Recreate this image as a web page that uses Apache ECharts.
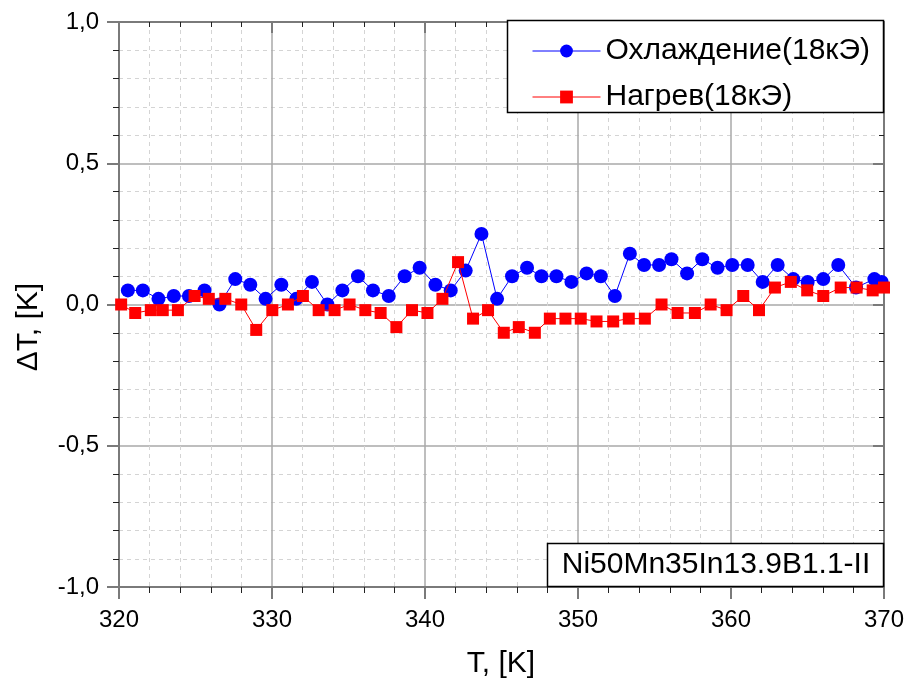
<!DOCTYPE html>
<html>
<head>
<meta charset="utf-8">
<title>ΔT(T)</title>
<script src="https://cdn.jsdelivr.net/npm/echarts@6/dist/echarts.min.js"></script>
<style>
  html, body { margin: 0; padding: 0; background: #fff; }
  #chart { width: 908px; height: 684px; }
</style>
</head>
<body>
<div id="chart"></div>
<script>
// Cooling run, 18 kOe: temperature [K] and temperature change [K]
const coolingT = [320.58, 321.56, 322.58, 323.58, 324.57, 325.59, 326.57, 327.60, 328.58, 329.58,
  330.61, 331.59, 332.61, 333.62, 334.60, 335.62, 336.60, 337.63, 338.67, 339.65,
  340.68, 341.68, 342.66, 343.69, 344.71, 345.69, 346.67, 347.61, 348.59, 349.57,
  350.56, 351.49, 352.41, 353.39, 354.32, 355.30, 356.11, 357.13, 358.12, 359.12,
  360.08, 361.09, 362.07, 363.05, 364.07, 365.01, 366.03, 367.01, 368.17, 369.37, 369.85];
const coolingDT = [0.05, 0.05, 0.02, 0.03, 0.03, 0.05, 0.00, 0.09, 0.07, 0.02,
  0.07, 0.02, 0.08, 0.00, 0.05, 0.10, 0.05, 0.03, 0.10, 0.13,
  0.07, 0.05, 0.12, 0.25, 0.02, 0.10, 0.13, 0.10, 0.10, 0.08,
  0.11, 0.10, 0.03, 0.18, 0.14, 0.14, 0.16, 0.11, 0.16, 0.13,
  0.14, 0.14, 0.08, 0.14, 0.09, 0.08, 0.09, 0.14, 0.06, 0.09, 0.08];

// Heating run, 18 kOe
const heatingT = [320.14, 321.06, 322.08, 322.86, 323.85, 324.94, 325.87, 326.95, 327.99, 328.97,
  330.02, 331.04, 332.02, 333.05, 334.09, 335.07, 336.10, 337.10, 338.13, 339.15,
  340.16, 341.14, 342.16, 343.14, 344.12, 345.15, 346.13, 347.18, 348.16, 349.18,
  350.18, 351.21, 352.30, 353.32, 354.37, 355.46, 356.51, 357.64, 358.67, 359.71,
  360.80, 361.83, 362.87, 363.91, 364.98, 366.03, 367.17, 368.21, 369.26, 370.00];
const heatingDT = [0.00, -0.03, -0.02, -0.02, -0.02, 0.03, 0.02, 0.02, 0.00, -0.09,
  -0.02, 0.00, 0.03, -0.02, -0.02, 0.00, -0.02, -0.03, -0.08, -0.02,
  -0.03, 0.02, 0.15, -0.05, -0.02, -0.10, -0.08, -0.10, -0.05, -0.05,
  -0.05, -0.06, -0.06, -0.05, -0.05, 0.00, -0.03, -0.03, 0.00, -0.02,
  0.03, -0.02, 0.06, 0.08, 0.05, 0.03, 0.06, 0.06, 0.05, 0.06];

const seriesNames = ['Охлаждение(18кЭ)', 'Нагрев(18кЭ)'];
const sampleLabel = 'Ni50Mn35In13.9B1.1-II';
const xTitle = 'T, [K]';
const yTitle = 'ΔT, [K]';

const FONT = 'Liberation Sans, Arial, sans-serif';
const pairs = (xs, ys) => xs.map((x, i) => [x, ys[i]]);
const commaNum = v => v.toFixed(1).replace('.', ',');

const G = { left: 119, top: 22, width: 765, height: 565, outerBoundsMode: 'none', containLabel: false };

const gridLines = {
  splitLine: { show: true, lineStyle: { color: '#a8a8a8', width: 1.5 } },
  minorSplitLine: { show: true, lineStyle: { color: '#d4d4d4', width: 1, type: [4, 4] } }
};

const chart = echarts.init(document.getElementById('chart'), null, { renderer: 'canvas' });

chart.setOption({
  animation: false,
  backgroundColor: '#ffffff',
  textStyle: { fontFamily: FONT },
  grid: G,
  xAxis: [{
    type: 'value', min: 320, max: 370, interval: 10,
    axisLine: { show: true, onZero: false, lineStyle: { color: '#7a7a7a', width: 2 } },
    axisTick: { show: true, length: 12, lineStyle: { color: '#7a7a7a', width: 2 } },
    minorTick: { show: true, splitNumber: 5, length: 6, lineStyle: { color: '#222', width: 1 } },
    axisLabel: { fontSize: 24, color: '#000', margin: 21, fontFamily: FONT },
    ...gridLines
  }, {
    type: 'value', min: 320, max: 370, interval: 10, position: 'top',
    axisLine: { show: true, onZero: false, lineStyle: { color: '#7a7a7a', width: 2 } },
    axisTick: { show: true, inside: true, length: 11, lineStyle: { color: '#7a7a7a', width: 2 } },
    minorTick: { show: true, splitNumber: 5, length: 5, lineStyle: { color: '#222', width: 1 } },
    axisLabel: { show: false }, splitLine: { show: false }
  }],
  yAxis: [{
    type: 'value', min: -1, max: 1, interval: 0.5,
    axisLine: { show: true, onZero: false, lineStyle: { color: '#7a7a7a', width: 2 } },
    axisTick: { show: true, length: 12, lineStyle: { color: '#7a7a7a', width: 2 } },
    minorTick: { show: true, splitNumber: 5, length: 6, lineStyle: { color: '#222', width: 1 } },
    axisLabel: { fontSize: 24, color: '#000', margin: 20, fontFamily: FONT, formatter: commaNum },
    ...gridLines
  }, {
    type: 'value', min: -1, max: 1, interval: 0.5, position: 'right',
    axisLine: { show: true, onZero: false, lineStyle: { color: '#7a7a7a', width: 2 } },
    axisTick: { show: true, inside: true, length: 11, lineStyle: { color: '#7a7a7a', width: 2 } },
    minorTick: { show: true, splitNumber: 5, length: 5, lineStyle: { color: '#222', width: 1 } },
    axisLabel: { show: false }, splitLine: { show: false }
  }],
  legend: {
    orient: 'vertical',
    left: 532, top: 36,
    padding: 0,
    itemGap: 16,
    itemWidth: 68, itemHeight: 16,
    lineStyle: { width: 1 },
    textStyle: { fontSize: 30, color: '#000', fontFamily: FONT, lineHeight: 30, padding: [0, 0, 0, 0] },
    data: seriesNames
  },
  series: [{
    name: seriesNames[0],
    type: 'line',
    data: pairs(coolingT, coolingDT),
    symbol: 'circle', symbolSize: 14,
    itemStyle: { color: '#0000ff' },
    lineStyle: { color: '#0000ff', width: 1 },
    z: 3
  }, {
    name: seriesNames[1],
    type: 'line',
    data: pairs(heatingT, heatingDT),
    symbol: 'rect', symbolSize: 12,
    itemStyle: { color: '#ff0000' },
    lineStyle: { color: '#ff0000', width: 1 },
    z: 4
  }],
  graphic: [
    // legend frame
    { type: 'rect', z: 1, silent: true,
      shape: { x: 507.5, y: 20.5, width: 376, height: 92 },
      style: { fill: '#ffffff', stroke: '#000', lineWidth: 1.5 } },
    // sample name box
    { type: 'rect', z: 100, silent: true,
      shape: { x: 547.5, y: 543.5, width: 336, height: 43 },
      style: { fill: '#ffffff', stroke: '#000', lineWidth: 1.5 } },
    { type: 'text', z: 101, silent: true, x: 716, y: 565,
      style: { text: sampleLabel, font: '30px ' + FONT, fill: '#000', align: 'center', verticalAlign: 'middle' } },
    // axis titles
    { type: 'text', z: 101, silent: true, x: 501, y: 664,
      style: { text: xTitle, font: '30px ' + FONT, fill: '#000', align: 'center', verticalAlign: 'middle' } },
    { type: 'text', z: 101, silent: true, x: 29, y: 327, rotation: Math.PI / 2,
      style: { text: yTitle, font: '30px ' + FONT, fill: '#000', align: 'center', verticalAlign: 'middle' } }
  ]
});
</script>
</body>
</html>
